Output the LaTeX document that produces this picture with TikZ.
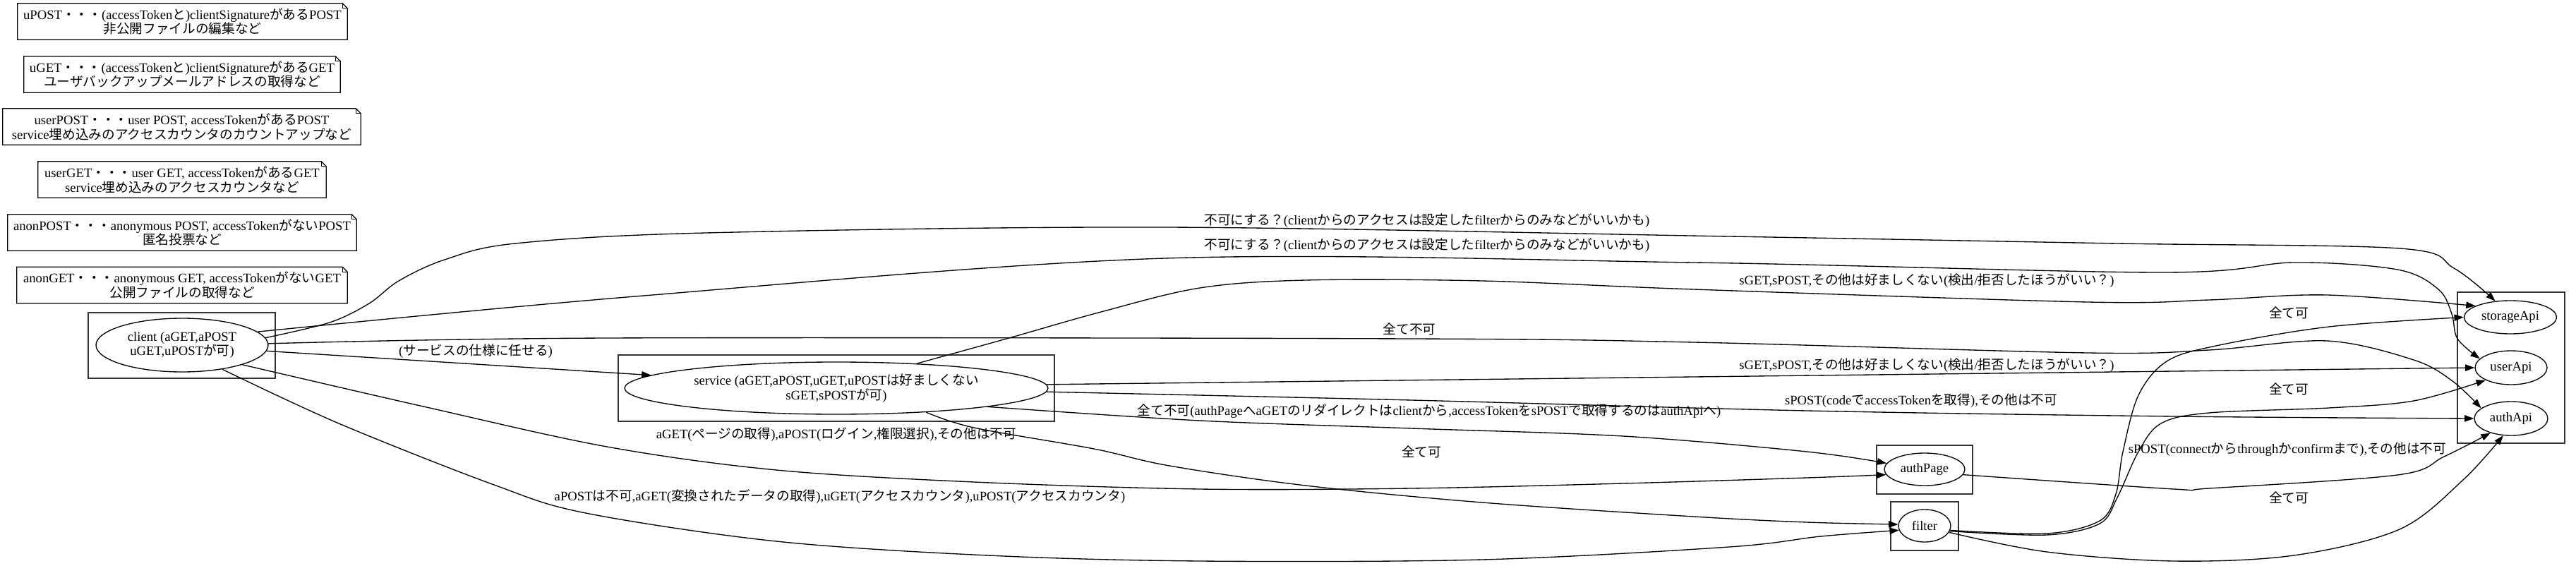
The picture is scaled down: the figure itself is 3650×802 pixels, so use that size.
\documentclass[tikz,border=0pt]{standalone}
\usepackage{fontspec}
\setmainfont{Liberation Serif}
\newfontfamily\cjk{Noto Sans CJK JP}
\usetikzlibrary{arrows.meta,shapes.geometric}
% automatic switch to the CJK font for Japanese characters
\XeTeXinterchartokenstate=1
\chardef\JPclass=77
\newcount\jpcnt
\def\setcls#1#2#3{\jpcnt=#1\relax\loop\XeTeXcharclass\jpcnt=#3\relax\advance\jpcnt by 1\relax\ifnum\jpcnt<#2\relax\repeat}
\setcls{0}{256}{0}
\setcls{"3000}{"3100}{\JPclass}
\setcls{"4E00}{"A000}{\JPclass}
\setcls{"FF00}{"FFF0}{\JPclass}
\XeTeXinterchartoks 0 \JPclass = {\cjk}
\XeTeXinterchartoks 1 \JPclass = {\cjk}
\XeTeXinterchartoks 2 \JPclass = {\cjk}
\XeTeXinterchartoks 3 \JPclass = {\cjk}
\XeTeXinterchartoks 4095 \JPclass = {\cjk}
\XeTeXinterchartoks \JPclass 0 = {\rmfamily}
\XeTeXinterchartoks \JPclass 1 = {\rmfamily}
\XeTeXinterchartoks \JPclass 2 = {\rmfamily}
\XeTeXinterchartoks \JPclass 3 = {\rmfamily}
\XeTeXinterchartoks \JPclass 4095 = {\rmfamily}
\begin{document}
\begin{tikzpicture}[x=0.75pt,y=-0.75pt,
  every node/.style={font=\fontsize{14pt}{15.5pt}\selectfont, inner sep=0pt},
  notebox/.style={rectangle, minimum height=38.25pt, align=center},
  oval/.style={ellipse, draw, line width=1pt, align=center},
  cluster/.style={draw=black!80, line width=1.2pt},
  notedraw/.style={line width=1pt, line join=miter},
  conn/.style={line width=1pt, -{Triangle[length=10pt,width=7pt]}},
  sm/.style={smooth, tension=0.55}
]
\fill[white] (0,0) rectangle (3650,802);
\useasboundingbox (0,0) rectangle (3650,802);

% notes
\node[notebox, minimum width=350.25pt] (n1) at (258.5,30.5) {uPOST・・・(accessTokenと)clientSignatureがあるPOST\\非公開ファイルの編集など};
\node[notebox, minimum width=336pt] (n2) at (258,105.5) {uGET・・・(accessTokenと)clientSignatureがあるGET\\ユーザバックアップメールアドレスの取得など};
\node[notebox, minimum width=380.25pt] (n3) at (257.5,179.5) {userPOST・・・user POST, accessTokenがあるPOST\\service埋め込みのアクセスカウンタのカウントアップなど};
\node[notebox, minimum width=306pt] (n4) at (258,254.5) {userGET・・・user GET, accessTokenがあるGET\\service埋め込みのアクセスカウンタなど};
\node[notebox, minimum width=370.5pt] (n5) at (258,329.5) {anonPOST・・・anonymous POST, accessTokenがないPOST\\匿名投票など};
\node[notebox, minimum width=351pt] (n6) at (258,404) {anonGET・・・anonymous GET, accessTokenがないGET\\公開ファイルの取得など};
\foreach \n in {n1,n2,n3,n4,n5,n6}{
  \draw[notedraw] (\n.south west) -- (\n.north west) -- ([xshift=-5.25pt]\n.north east) -- ([yshift=-5.25pt]\n.north east) -- (\n.south east) -- cycle;
  \draw[notedraw, line width=0.6pt] ([xshift=-5.25pt]\n.north east) -- ([xshift=-5.25pt,yshift=-5.25pt]\n.north east) -- ([yshift=-5.25pt]\n.north east);
}

% clusters
\draw[cluster] (125,443) rectangle (390,536);
\draw[cluster] (876,503) rectangle (1494,597);
\draw[cluster] (2659,631) rectangle (2795,700);
\draw[cluster] (2679,711) rectangle (2775,780);
\draw[cluster] (3482,414) rectangle (3634,628);

% nodes
\node[oval, minimum width=183pt, minimum height=57pt] (client) at (258,489) {client (aGET,aPOST\\uGET,uPOSTが可)};
\node[oval, minimum width=450pt, minimum height=55.5pt] (service) at (1185,550) {service (aGET,aPOST,uGET,uPOSTは好ましくない\\sGET,sPOSTが可)};
\node[oval, minimum width=85.5pt, minimum height=34.5pt] (authPage) at (2727,665) {authPage};
\node[oval, minimum width=55.5pt, minimum height=34.5pt] (filter) at (2727,745) {filter};
\node[oval, minimum width=98.25pt, minimum height=35.25pt] (storageApi) at (3557,449.5) {storageApi};
\node[oval, minimum width=76.5pt, minimum height=36pt] (userApi) at (3558,521) {userApi};
\node[oval, minimum width=78pt, minimum height=36pt] (authApi) at (3558,593) {authApi};

% edges from client
\draw[conn] plot[sm] coordinates {(client.5) (467,457) (523,430) (565,398) (630,368) (730,345) (1000,330) (1650,322) (2450,335) (3000,345) (3400,352) (3477,380) (storageApi.133)};
\draw[conn] plot[sm] coordinates {(client.10) (900,420) (1650,366) (2400,372) (3062,386) (3250,372) (3397,382) (3455,410) (3474,445) (3482,480) (userApi.164)};
\draw[conn] plot[sm] coordinates {(client.1) (860,479) (2000,480) (2400,485) (2958,500) (3130,496) (3297,483) (3420,510) (3475,540) (authApi.161)};
\draw[conn] (client.-4) -- (service.176);
\draw[conn] plot[sm] coordinates {(client.-18) (600,576) (860,633) (1100,666) (1380,683) (1700,693) (2000,692) (2300,685) (2560,677) (authPage.188)};
\draw[conn] plot[sm] coordinates {(client.-31) (480,600) (700,687) (830,727) (1100,767) (1400,787) (1700,795) (2100,793) (2450,775) (2580,760) (filter.190)};

% edges from service
\draw[conn] plot[sm] coordinates {(service.17) (1426,480) (1560,442) (1700,408) (1850,397) (2100,398) (2400,410) (2958,428) (3130,425) (3297,418) (storageApi.162)};
\draw[conn] plot[sm] coordinates {(service.1) (2400,534) (userApi.180)};
\draw[conn] plot[sm] coordinates {(service.-1.3) (2000,567) (2560,582) (3080,590) (authApi.180)};
\draw[conn] plot[sm] coordinates {(service.-7) (1700,596) (2000,607) (2300,618) (2560,640) (authPage.171)};
\draw[conn] plot[sm] coordinates {(service.-15.6) (1380,606) (1550,636) (1657,660) (1850,688) (2100,712) (2400,732) (2560,740) (filter.177)};

% edges from authPage and filter
\draw[conn] plot[sm] coordinates {(authPage.-8) (3080,693) (3130,692) (3397,673) (3463,647) (authApi.215)};
\draw[conn] plot[sm] coordinates {(filter.-10) (2900,756) (2975,738) (2998,700) (3008,640) (3030,560) (3070,512) (3140,490) (3300,463) (storageApi.180)};
\draw[conn] plot[sm] coordinates {(filter.-12) (2900,758) (2975,742) (3000,705) (3030,640) (3062,600) (3130,585) (3300,578) (3420,568) (userApi.206)};
\draw[conn] plot[sm] coordinates {(filter.-15) (2900,782) (3080,795) (3250,787) (3400,750) (3490,680) (authApi.245)};

% edge labels
\node (l1) at (2022,313) {不可にする？(clientからのアクセスは設定したfilterからのみなどがいいかも)};
\node (l2) at (2022,348) {不可にする？(clientからのアクセスは設定したfilterからのみなどがいいかも)};
\node (l3) at (1997,466) {全て不可};
\node (l4) at (674,498) {(サービスの仕様に任せる)};
\node (l5) at (1185,616) {aGET(ページの取得),aPOST(ログイン,権限選択),その他は不可};
\node (l6) at (1190,704) {aPOSTは不可,aGET(変換されたデータの取得),uGET(アクセスカウンタ),uPOST(アクセスカウンタ)};
\node (l7) at (2730,398) {sGET,sPOST,その他は好ましくない(検出/拒否したほうがいい？)};
\node (l8) at (2730,518) {sGET,sPOST,その他は好ましくない(検出/拒否したほうがいい？)};
\node (l9) at (2722,568) {sPOST(codeでaccessTokenを取得),その他は不可};
\node (l10) at (2025,583) {全て不可(authPageへaGETのリダイレクトはclientから,accessTokenをsPOSTで取得するのはauthApiへ)};
\node (l11) at (2014,640) {全て可};
\node (l12) at (3243,443) {全て可};
\node (l13) at (3243,551) {全て可};
\node (l14) at (3241,637) {sPOST(connectからthroughかconfirmまで),その他は不可};
\node (l15) at (3243,705) {全て可};
\end{tikzpicture}
\end{document}
